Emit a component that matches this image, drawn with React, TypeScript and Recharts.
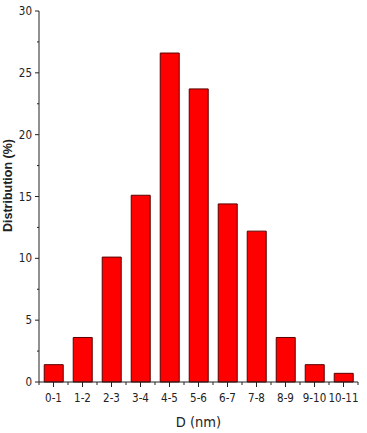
import { BarChart, Bar, XAxis, YAxis } from 'recharts';

const sizeBins = ['0-1', '1-2', '2-3', '3-4', '4-5', '5-6', '6-7', '7-8', '8-9', '9-10', '10-11'];
const distribution = [1.4, 3.6, 10.1, 15.1, 26.6, 23.7, 14.4, 12.2, 3.6, 1.4, 0.7];
const yTicks = [0, 2.5, 5, 7.5, 10, 12.5, 15, 17.5, 20, 22.5, 25, 27.5, 30];

const data = sizeBins.map((bin, i) => ({ bin, value: distribution[i] }));

const FONT = '"DejaVu Sans Condensed", "Liberation Sans Narrow", "DejaVu Sans", sans-serif';

const YTick = (props: any) => {
    const { x, y, payload } = props;
    const major = payload.value % 5 === 0;
    const axisX = x + 6;
    return (
        <g>
            <line x1={axisX - (major ? 4 : 2)} x2={axisX} y1={y} y2={y} stroke="#222" strokeWidth={1} />
            {major && (
                <text x={x - 1} y={y} dy={4} textAnchor="end" fontSize={11.5} fontStretch="condensed" fontFamily={FONT} fill="#222">
                    {payload.value}
                </text>
            )}
        </g>
    );
};

const XTick = (props: any) => {
    const { x, y, payload, index, visibleTicksCount } = props;
    const half = payload.offset ?? 0;
    const axisY = y - 6;
    return (
        <g>
            <line x1={x} x2={x} y1={axisY} y2={axisY + 5} stroke="#222" strokeWidth={1} />
            <line x1={x - half} x2={x - half} y1={axisY} y2={axisY + 3} stroke="#222" strokeWidth={1} />
            {index === visibleTicksCount - 1 && (
                <line x1={x + half} x2={x + half} y1={axisY} y2={axisY + 3} stroke="#222" strokeWidth={1} />
            )}
            <text x={x} y={axisY + 20} textAnchor="middle" fontSize={11.5} fontStretch="condensed" fontFamily={FONT} fill="#222">
                {payload.value}
            </text>
        </g>
    );
};

export default function App() {
    return (
        <div style={{ position: 'absolute', left: 0, top: 0, background: '#fff' }}>
            <BarChart
                width={367}
                height={433}
                data={data}
                margin={{ top: 11, right: 9, left: 0, bottom: 0 }}
                barCategoryGap="18%"
            >
                <XAxis
                    dataKey="bin"
                    height={51}
                    tickLine={false}
                    tickSize={0}
                    tickMargin={6}
                    axisLine={{ stroke: '#222' }}
                    tick={<XTick />}
                    interval={0}
                    label={(p: any) => {
                        const vb = p.viewBox;
                        return (
                            <text x={vb.x + vb.width / 2} y={427} textAnchor="middle" fontSize={14.5} fontStretch="condensed" fontFamily={FONT} fill="#222">
                                D (nm)
                            </text>
                        );
                    }}
                />
                <YAxis
                    width={39}
                    domain={[0, 30]}
                    ticks={yTicks}
                    interval={0}
                    tickLine={false}
                    tickSize={0}
                    tickMargin={6}
                    axisLine={{ stroke: '#222' }}
                    tick={<YTick />}
                    label={(p: any) => {
                        const vb = p.viewBox;
                        const cx = 12;
                        const cy = vb.y + vb.height / 2 - 11;
                        return (
                            <text
                                x={cx}
                                y={cy}
                                transform={`rotate(-90 ${cx} ${cy})`}
                                textAnchor="middle"
                                fontSize={12.5}
                                fontWeight="bold"
                                fontFamily='"Liberation Sans", Arial, sans-serif'
                                fill="#222"
                            >
                                Distribution (%)
                            </text>
                        );
                    }}
                />
                <Bar dataKey="value" fill="#ff0000" stroke="#5a0000" strokeWidth={1} isAnimationActive={false} />
            </BarChart>
        </div>
    );
}
